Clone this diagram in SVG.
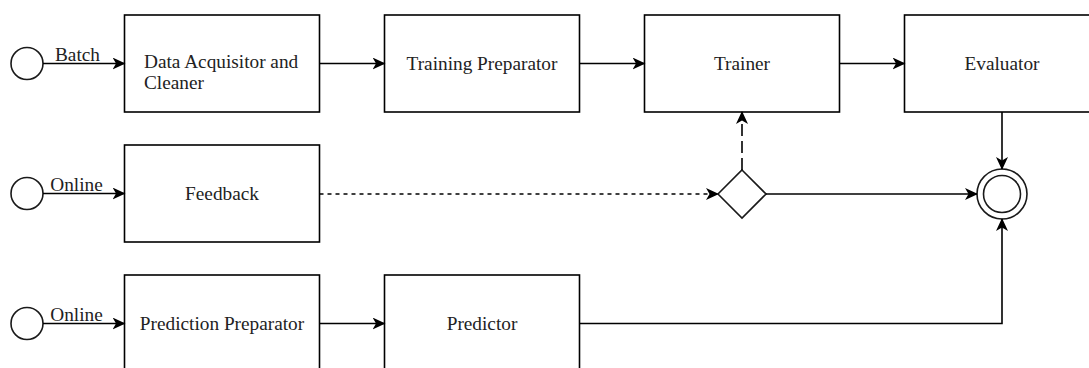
<svg xmlns="http://www.w3.org/2000/svg" width="1089" height="368" viewBox="0 0 1089 368">
<defs>
<style>
.box{fill:#fff;stroke:#000;stroke-width:1.6}
.ev{fill:#fff;stroke:#1a1a1a;stroke-width:1.6}
.lbl{font-family:"Liberation Serif","Times New Roman",serif;font-size:19.3px;fill:#222}
.c{text-anchor:middle}
.edge{fill:none;stroke:#000;stroke-width:1.6}
.dash1{stroke-dasharray:4 4}
.dash2{stroke-dasharray:12 5}
</style>
<marker id="arr" markerUnits="userSpaceOnUse" viewBox="0 0 13 12" refX="12" refY="6" markerWidth="13" markerHeight="12" orient="auto">
<path d="M0,0 L13,6 L0,12 L3.5,6 Z" fill="#000"/>
</marker>
</defs>
<g id="start-batch"><circle class="ev" cx="27" cy="63.5" r="16"/></g>
<g id="start-online-1"><circle class="ev" cx="27" cy="193.5" r="16"/></g>
<g id="start-online-2"><circle class="ev" cx="27" cy="323.5" r="16"/></g>
<g id="data-acquisitor"><rect class="box" x="124.5" y="15" width="195" height="97"/><text class="lbl" x="144" y="68">Data Acquisitor and</text><text class="lbl" x="144" y="89">Cleaner</text></g>
<g id="training-preparator"><rect class="box" x="384.5" y="15" width="195" height="97"/><text class="lbl c" x="482" y="70">Training Preparator</text></g>
<g id="trainer"><rect class="box" x="644.5" y="15" width="195" height="97"/><text class="lbl c" x="742" y="70">Trainer</text></g>
<g id="evaluator"><rect class="box" x="904.5" y="15" width="195" height="97"/><text class="lbl c" x="1002" y="70">Evaluator</text></g>
<g id="feedback"><rect class="box" x="124.5" y="145" width="195" height="97"/><text class="lbl c" x="222" y="200">Feedback</text></g>
<g id="prediction-preparator"><rect class="box" x="124.5" y="275" width="195" height="97"/><text class="lbl c" x="222" y="330">Prediction Preparator</text></g>
<g id="predictor"><rect class="box" x="384.5" y="275" width="195" height="97"/><text class="lbl c" x="482" y="330">Predictor</text></g>
<g id="gateway"><polygon class="ev" points="742,170 766,194 742,218 718,194"/></g>
<g id="end"><circle class="ev" cx="1002" cy="194" r="25"/><circle class="ev" cx="1002" cy="194" r="18.5"/></g>
<g id="connectors">
<line class="edge" x1="43" y1="63.5" x2="124.5" y2="63.5" marker-end="url(#arr)"/>
<text class="lbl c" x="77.5" y="60.5">Batch</text>
<line class="edge" x1="319.5" y1="63.5" x2="384.5" y2="63.5" marker-end="url(#arr)"/>
<line class="edge" x1="579.5" y1="63.5" x2="644.5" y2="63.5" marker-end="url(#arr)"/>
<line class="edge" x1="839.5" y1="63.5" x2="904.5" y2="63.5" marker-end="url(#arr)"/>
<line class="edge" x1="1002" y1="112" x2="1002" y2="169" marker-end="url(#arr)"/>
<line class="edge" x1="43" y1="193.5" x2="124.5" y2="193.5" marker-end="url(#arr)"/>
<text class="lbl c" x="76.5" y="190.5">Online</text>
<line class="edge dash1" x1="319.5" y1="194" x2="718" y2="194" marker-end="url(#arr)"/>
<line class="edge dash2" x1="742" y1="170" x2="742" y2="112" marker-end="url(#arr)"/>
<line class="edge" x1="766" y1="194" x2="977" y2="194" marker-end="url(#arr)"/>
<line class="edge" x1="43" y1="323.5" x2="124.5" y2="323.5" marker-end="url(#arr)"/>
<text class="lbl c" x="76.5" y="320.5">Online</text>
<line class="edge" x1="319.5" y1="323.5" x2="384.5" y2="323.5" marker-end="url(#arr)"/>
<polyline class="edge" points="579.5,323.5 1002,323.5 1002,219" marker-end="url(#arr)"/>
</g>
</svg>
